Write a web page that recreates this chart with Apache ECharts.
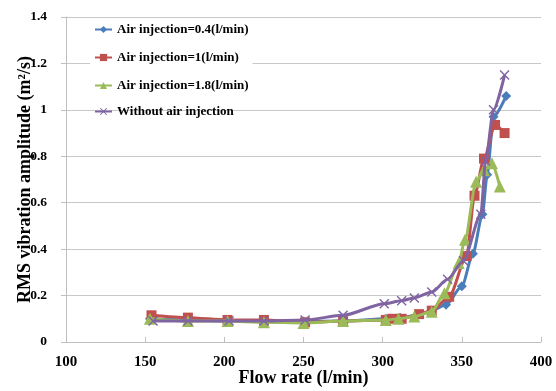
<!DOCTYPE html>
<html>
<head>
<meta charset="utf-8">
<script src="https://cdn.jsdelivr.net/npm/echarts@6/dist/echarts.min.js"></script>
<style>html,body{margin:0;padding:0;background:#fff;}#c{width:556px;height:391px;}</style>
</head>
<body>
<div id="c"></div>
<script>
var seriesNames = ['Air injection=0.4(l/min)', 'Air injection=1(l/min)', 'Air injection=1.8(l/min)', 'Without air injection'];

var blueX = [153, 176, 202, 225, 250, 274, 302, 311, 322, 331, 340, 350, 357, 363, 366, 370, 378];
var blueY = [0.10, 0.095, 0.09, 0.09, 0.088, 0.09, 0.10, 0.105, 0.115, 0.135, 0.16, 0.24, 0.38, 0.55, 0.72, 0.97, 1.06];

var redX = [154, 177, 202, 225, 251, 275, 302, 306, 312, 323, 331, 342, 353, 358, 364, 371, 377];
var redY = [0.115, 0.105, 0.095, 0.095, 0.085, 0.09, 0.095, 0.10, 0.10, 0.12, 0.135, 0.195, 0.37, 0.63, 0.79, 0.935, 0.90];

var greenX = [153, 177, 202, 225, 250, 275, 302, 310, 320, 331, 339, 348, 352, 359, 364, 369, 374];
var greenY = [0.10, 0.09, 0.09, 0.085, 0.082, 0.09, 0.095, 0.10, 0.11, 0.13, 0.21, 0.34, 0.44, 0.69, 0.74, 0.77, 0.67];

var purpleX = [155, 177, 203, 225, 251, 275, 301, 312, 320, 331, 341, 351, 362, 365, 370, 377];
var purpleY = [0.09, 0.09, 0.09, 0.09, 0.095, 0.115, 0.165, 0.178, 0.19, 0.215, 0.27, 0.35, 0.55, 0.78, 1.0, 1.15];

var xTicks = [100, 150, 200, 250, 300, 350, 400];
var yTicks = [0, 0.2, 0.4, 0.6, 0.8, 1, 1.2, 1.4];

function pairs(xs, ys) { return xs.map(function (x, i) { return [x, ys[i]]; }); }

var FONT = '"Liberation Serif", "Times New Roman", serif';
var crossPath = 'path://M0,1L1,0L5,4L9,0L10,1L6,5L10,9L9,10L5,6L1,10L0,9L4,5Z';

var colors = ['#4A7EBB', '#C0504D', '#9BBB59', '#8064A2'];
var symbols = ['diamond', 'rect', 'triangle', crossPath];
var sizes = [10, 10, 12, 10];
var datas = [pairs(blueX, blueY), pairs(redX, redY), pairs(greenX, greenY), pairs(purpleX, purpleY)];

var series = seriesNames.map(function (n, i) {
  return {
    name: n, type: 'line', data: datas[i],
    smooth: 0.25, smoothMonotone: 'x',
    symbol: symbols[i], symbolSize: sizes[i],
    lineStyle: { color: colors[i], width: 3 },
    itemStyle: { color: colors[i] },
    z: 2 + i
  };
});

var legendText = { fontFamily: FONT, fontWeight: 'bold', fontSize: 13, color: '#000' };

var chart = echarts.init(document.getElementById('c'));
chart.setOption({
  animation: false,
  backgroundColor: '#fff',
  color: colors,
  grid: { left: 66, right: 15, top: 17, bottom: 49, containLabel: false, outerBoundsMode: 'none' },
  legend: [{
    data: seriesNames.slice(0, 3),
    orient: 'vertical', left: 90, top: 21, itemGap: 15, itemWidth: 17, itemHeight: 9,
    backgroundColor: '#fff', padding: [2, 4, 2, 4],
    textStyle: legendText
  }, {
    data: seriesNames.slice(3),
    orient: 'vertical', left: 90, top: 103, itemWidth: 17, itemHeight: 9,
    padding: [2, 4, 2, 4],
    textStyle: legendText
  }],
  xAxis: {
    type: 'value', min: 100, max: 400, interval: 50,
    name: 'Flow rate (l/min)', nameLocation: 'middle', nameGap: 27, nameMoveOverlap: false,
    nameTextStyle: { fontFamily: FONT, fontWeight: 'bold', fontSize: 18, color: '#000' },
    axisLine: { show: true, lineStyle: { color: '#BFBFBF', width: 1 } },
    axisTick: { show: true, inside: true, length: 5, lineStyle: { color: '#BFBFBF' } },
    splitLine: { show: false },
    axisLabel: { fontFamily: FONT, fontWeight: 'bold', fontSize: 15, color: '#000', margin: 13,
      formatter: function (v) { return xTicks.indexOf(v) >= 0 ? String(v) : ''; } }
  },
  yAxis: {
    type: 'value', min: 0, max: 1.4, interval: 0.2,
    name: 'RMS vibration amplitude (m²/s)', nameLocation: 'middle', nameGap: 32, nameMoveOverlap: false,
    nameTextStyle: { fontFamily: FONT, fontWeight: 'bold', fontSize: 18, color: '#000' },
    axisLine: { show: true, lineStyle: { color: '#BFBFBF', width: 1 } },
    axisTick: { show: true, length: 5, lineStyle: { color: '#BFBFBF' } },
    splitLine: { show: true, lineStyle: { color: '#C8C8C8', width: 1 } },
    axisLabel: { fontFamily: FONT, fontWeight: 'bold', fontSize: 13.5, color: '#000', margin: 19,
      formatter: function (v) {
        for (var i = 0; i < yTicks.length; i++) { if (Math.abs(yTicks[i] - v) < 1e-9) return String(yTicks[i]); }
        return '';
      } }
  },
  series: series
});
</script>
</body>
</html>
